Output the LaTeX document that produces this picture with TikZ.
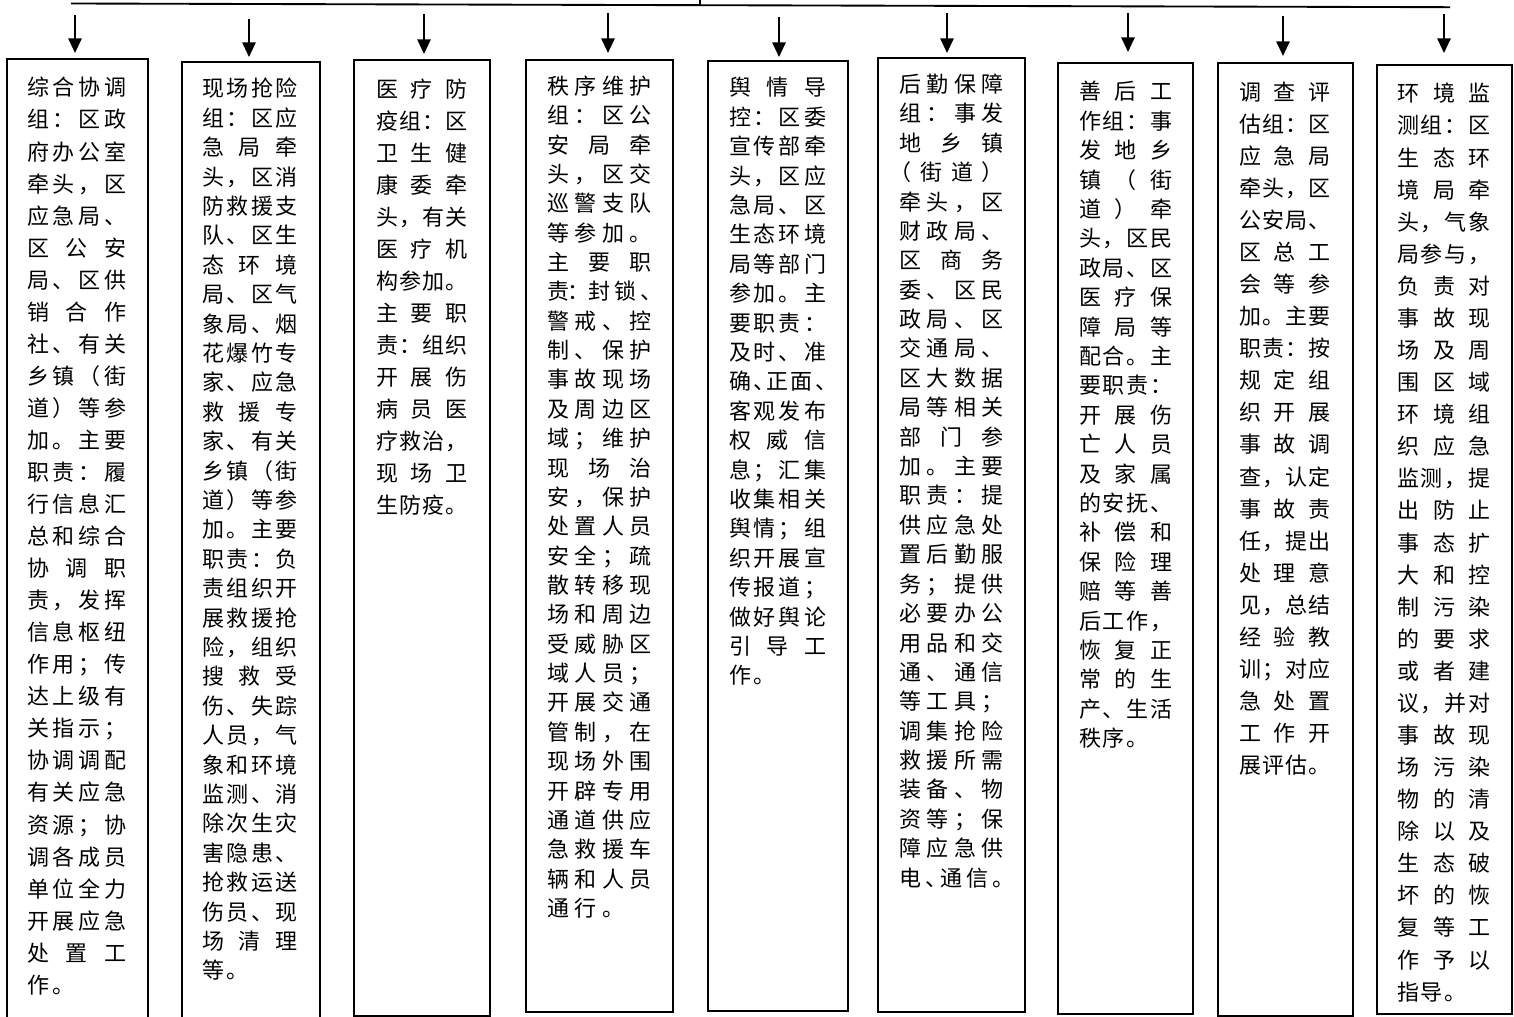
\documentclass[tikz,border=0pt]{standalone}
\usepackage{fontspec}
\setmainfont{Noto Sans CJK SC}
\usetikzlibrary{arrows.meta}
\newlength\zLW
\newlength\zGAP
\makeatletter
\def\zjl#1{\hbox to\zLW{\zjl@first#1\relax}}
\def\zjl@first#1{#1\zjl@rest}
\def\zjl@rest#1{\ifx\relax#1\else\hfil#1\expandafter\zjl@rest\fi}
\def\znl#1{\hbox{\znl@first#1\relax}}
\def\znl@first#1{#1\znl@rest}
\def\znl@rest#1{\ifx\relax#1\else\kern\zGAP#1\expandafter\znl@rest\fi}
\makeatother
\def\zhl#1{\hbox to .5em{#1\hss}}
\def\zhc#1{\hbox to .5em{\hss#1\hss}}
\newcommand\zblk[3]{\vtop{\zLW=0.75pt\zLW=#1\zLW
  \zGAP=\dimexpr(\zLW-66pt)/3\relax
  \baselineskip=0.75pt \baselineskip=#2\baselineskip
  \lineskiplimit=-100pt \lineskip=0pt #3}}
\tikzset{
  box/.style={draw, line width=1.4pt, rectangle, inner sep=0pt, outer sep=0pt, anchor=north west},
  txt/.style={inner sep=0pt, outer sep=0pt, anchor=base west, font=\fontsize{16.5pt}{20pt}\selectfont},
  arr/.style={line width=1.4pt, -{Triangle[width=10pt,length=11pt]}},
  bar/.style={line width=1.4pt}
}
\begin{document}
\begin{tikzpicture}[x=0.75pt,y=-0.75pt]
\useasboundingbox (0,0) rectangle (1514,1017);
% top bar
\coordinate (L) at (71,3.5);
\coordinate (R) at (1450,7.2);
\coordinate (T0) at (700,-2);
\coordinate (T1) at (700,5.2);
\draw[bar] (L) -- (R);
\draw[bar] (T0) -- (T1);
% boxes
\node[box, minimum width={141*0.75pt}, minimum height={971*0.75pt}] (b1) at (7,59) {};
\node[box, minimum width={138*0.75pt}, minimum height={968*0.75pt}] (b2) at (182,62) {};
\node[box, minimum width={136*0.75pt}, minimum height={956*0.75pt}] (b3) at (354,60) {};
\node[box, minimum width={147*0.75pt}, minimum height={952*0.75pt}] (b4) at (526,60) {};
\node[box, minimum width={140*0.75pt}, minimum height={950*0.75pt}] (b5) at (708,61) {};
\node[box, minimum width={147*0.75pt}, minimum height={954*0.75pt}] (b6) at (878,58) {};
\node[box, minimum width={135*0.75pt}, minimum height={951*0.75pt}] (b7) at (1058,63) {};
\node[box, minimum width={135*0.75pt}, minimum height={953*0.75pt}] (b8) at (1218,63) {};
\node[box, minimum width={135*0.75pt}, minimum height={949*0.75pt}] (b9) at (1377,65) {};
% arrows
\foreach \i/\x/\y/\g in {1/75/15/4.5pt, 2/249/19/3.75pt, 3/424/14/4.5pt, 4/608/13/5.25pt, 5/779/17/3pt, 6/947/13/3.75pt, 7/1128/13/8.25pt, 8/1283/16/5.25pt, 9/1444/14/9pt}{
  \coordinate (s\i) at (\x,\y);
  \draw[arr, shorten >=\g] (s\i) -- (s\i |- b\i.north);
}
% texts
\node[txt] (t1) at (27,95.9) {\zblk{99}{32.05}{%
\zjl{综合协调}\zjl{组：区政}\zjl{府办公室}\zjl{牵头，区}\zjl{应急局、}\zjl{区公安}\zjl{局、区供}\zjl{销合作}\zjl{社、有关}\zjl{乡镇（街}\zjl{道）等参}\zjl{加。主要}\zjl{职责：履}\zjl{行信息汇}\zjl{总和综合}\zjl{协调职}\zjl{责，发挥}\zjl{信息枢纽}\zjl{作用；传}\zjl{达上级有}\zjl{关指示；}\zjl{协调调配}\zjl{有关应急}\zjl{资源；协}\zjl{调各成员}\zjl{单位全力}\zjl{开展应急}\zjl{处置工}\znl{作。}}};
\node[txt] (t2) at (202,96.9) {\zblk{96}{29.4}{%
\zjl{现场抢险}\zjl{组：区应}\zjl{急局牵}\zjl{头，区消}\zjl{防救援支}\zjl{队、区生}\zjl{态环境}\zjl{局、区气}\zjl{象局、烟}\zjl{花爆竹专}\zjl{家、应急}\zjl{救援专}\zjl{家、有关}\zjl{乡镇（街}\zjl{道）等参}\zjl{加。主要}\zjl{职责：负}\zjl{责组织开}\zjl{展救援抢}\zjl{险，组织}\zjl{搜救受}\zjl{伤、失踪}\zjl{人员，气}\zjl{象和环境}\zjl{监测、消}\zjl{除次生灾}\zjl{害隐患、}\zjl{抢救运送}\zjl{伤员、现}\zjl{场清理}\znl{等。}}};
\node[txt] (t3) at (376,97.4) {\zblk{92}{32}{%
\zjl{医疗防}\zjl{疫组：区}\zjl{卫生健}\zjl{康委牵}\zjl{头，有关}\zjl{医疗机}\zjl{构参加。}\zjl{主要职}\zjl{责：组织}\zjl{开展伤}\zjl{病员医}\zjl{疗救治，}\zjl{现场卫}\zjl{生防疫。}}};
\node[txt] (t4) at (547,94.4) {\zblk{105}{29.36}{%
\zjl{秩序维护}\zjl{组：区公}\zjl{安局牵}\zjl{头，区交}\zjl{巡警支队}\zjl{等参加。}\zjl{主要职}\zjl{责{\zhc{：}}封锁{\zhl{、}}}\zjl{警戒、控}\zjl{制、保护}\zjl{事故现场}\zjl{及周边区}\zjl{域；维护}\zjl{现场治}\zjl{安，保护}\zjl{处置人员}\zjl{安全；疏}\zjl{散转移现}\zjl{场和周边}\zjl{受威胁区}\zjl{域人员；}\zjl{开展交通}\zjl{管制，在}\zjl{现场外围}\zjl{开辟专用}\zjl{通道供应}\zjl{急救援车}\zjl{辆和人员}\znl{通行。}}};
\node[txt] (t5) at (729,95.9) {\zblk{97}{29.4}{%
\zjl{舆情导}\zjl{控：区委}\zjl{宣传部牵}\zjl{头，区应}\zjl{急局、区}\zjl{生态环境}\zjl{局等部门}\zjl{参加。主}\zjl{要职责：}\zjl{及时、准}\zjl{确{\zhl{、}}正面{\zhl{、}}}\zjl{客观发布}\zjl{权威信}\zjl{息；汇集}\zjl{收集相关}\zjl{舆情；组}\zjl{织开展宣}\zjl{传报道；}\zjl{做好舆论}\zjl{引导工}\znl{作。}}};
\node[txt] (t6) at (899,92.4) {\zblk{105}{29.4}{%
\zjl{后勤保障}\zjl{组：事发}\zjl{地乡镇}\zjl{{\kern-0.45em（}街道）}\zjl{牵头，区}\zjl{财政局、}\zjl{区商务}\zjl{委、区民}\zjl{政局、区}\zjl{交通局、}\zjl{区大数据}\zjl{局等相关}\zjl{部门参}\zjl{加。主要}\zjl{职责：提}\zjl{供应急处}\zjl{置后勤服}\zjl{务；提供}\zjl{必要办公}\zjl{用品和交}\zjl{通、通信}\zjl{等工具；}\zjl{调集抢险}\zjl{救援所需}\zjl{装备、物}\zjl{资等；保}\zjl{障应急供}\zjl{电{\zhl{、}}通信{\zhl{。}}}}};
\node[txt] (t7) at (1079,99.9) {\zblk{93}{29.4}{%
\zjl{善后工}\zjl{作组：事}\zjl{发地乡}\zjl{镇（街}\zjl{道）牵}\zjl{头，区民}\zjl{政局、区}\zjl{医疗保}\zjl{障局等}\zjl{配合。主}\zjl{要职责：}\zjl{开展伤}\zjl{亡人员}\zjl{及家属}\zjl{的安抚、}\zjl{补偿和}\zjl{保险理}\zjl{赔等善}\zjl{后工作，}\zjl{恢复正}\zjl{常的生}\zjl{产、生活}\znl{秩序。}}};
\node[txt] (t8) at (1239,100.4) {\zblk{92}{32.05}{%
\zjl{调查评}\zjl{估组：区}\zjl{应急局}\zjl{牵头，区}\zjl{公安局、}\zjl{区总工}\zjl{会等参}\zjl{加。主要}\zjl{职责：按}\zjl{规定组}\zjl{织开展}\zjl{事故调}\zjl{查，认定}\zjl{事故责}\zjl{任，提出}\zjl{处理意}\zjl{见，总结}\zjl{经验教}\zjl{训；对应}\zjl{急处置}\zjl{工作开}\zjl{展评估。}}};
\node[txt] (t9) at (1397,101.9) {\zblk{94}{32.08}{%
\zjl{环境监}\zjl{测组：区}\zjl{生态环}\zjl{境局牵}\zjl{头，气象}\zjl{局参与，}\zjl{负责对}\zjl{事故现}\zjl{场及周}\zjl{围区域}\zjl{环境组}\zjl{织应急}\zjl{监测，提}\zjl{出防止}\zjl{事态扩}\zjl{大和控}\zjl{制污染}\zjl{的要求}\zjl{或者建}\zjl{议，并对}\zjl{事故现}\zjl{场污染}\zjl{物的清}\zjl{除以及}\zjl{生态破}\zjl{坏的恢}\zjl{复等工}\zjl{作予以}\znl{指导。}}};
\end{tikzpicture}
\end{document}
